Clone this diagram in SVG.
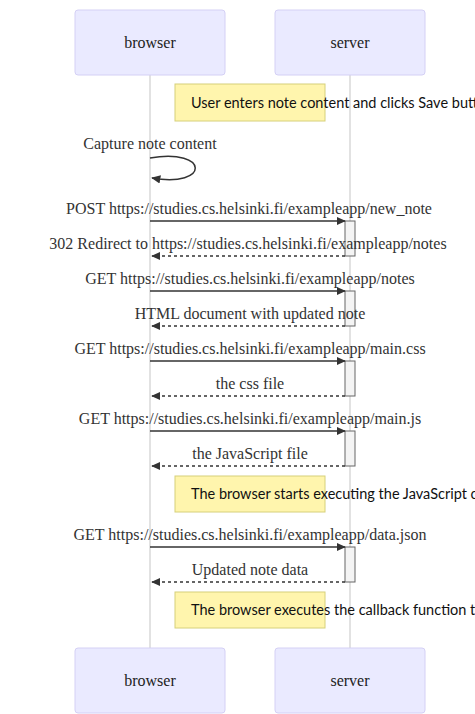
<svg xmlns="http://www.w3.org/2000/svg" width="475" height="714" viewBox="0 0 475 714">
<style>
.actor{fill:#eaeaff;stroke:#d4d0f5;stroke-width:1}
.atext{font-family:"Liberation Serif",serif;font-size:16px;fill:#222;text-anchor:middle;dominant-baseline:central}
.life{stroke:#d9d9d9;stroke-width:1.5}
.msg{stroke:#333;stroke-width:1.5;fill:none}
.dash{stroke-dasharray:3,3}
.mtext{font-family:"Liberation Serif",serif;font-size:16px;fill:#333;text-anchor:middle}
.act{fill:#f4f4f4;stroke:#666;stroke-width:1}
.note{fill:#fff5ad;stroke:#d6d07a;stroke-width:1}
.ntext{font-family:Lato,"DejaVu Sans",sans-serif;font-size:14.5px;fill:#111}
</style>
<defs>
<marker id="arrow" viewBox="0 0 12 12" refX="10" refY="6" markerWidth="10" markerHeight="10" markerUnits="userSpaceOnUse" orient="auto">
<path d="M0,1 L11,6 L0,11 z" fill="#333"/>
</marker>
</defs>
<g id="lifelines">
<line class="life" x1="150" y1="75" x2="150" y2="648"/>
<line class="life" x1="350" y1="75" x2="350" y2="648"/>
</g>
<g id="browser-top"><rect class="actor" x="75" y="10" width="150" height="65" rx="3"/><text class="atext" x="150" y="42.5">browser</text></g>
<g id="server-top"><rect class="actor" x="275" y="10" width="150" height="65" rx="3"/><text class="atext" x="350" y="42.5">server</text></g>
<g id="browser-bottom"><rect class="actor" x="75" y="648" width="150" height="65" rx="3"/><text class="atext" x="150" y="680.5">browser</text></g>
<g id="server-bottom"><rect class="actor" x="275" y="648" width="150" height="65" rx="3"/><text class="atext" x="350" y="680.5">server</text></g>
<g id="activations">
<rect class="act" x="345" y="221" width="10" height="35"/>
<rect class="act" x="345" y="291" width="10" height="35"/>
<rect class="act" x="345" y="361" width="10" height="35"/>
<rect class="act" x="345" y="431" width="10" height="35"/>
<rect class="act" x="345" y="547" width="10" height="35"/>
</g>
<g id="note1"><rect class="note" x="175" y="84" width="150" height="37"/><text class="ntext" x="191" y="108">User enters note content and clicks Save button</text></g>
<g id="note2"><rect class="note" x="175" y="476" width="150" height="36"/><text class="ntext" x="191" y="499">The browser starts executing the JavaScript code that fetches the JSON from the server</text></g>
<g id="note3"><rect class="note" x="175" y="592" width="150" height="36"/><text class="ntext" x="191" y="615">The browser executes the callback function that renders the notes</text></g>
<g id="connectors">
<path class="msg" d="M150,158 C210,148 210,188 152,178" marker-end="url(#arrow)"/>
<line class="msg" x1="150" y1="221" x2="345" y2="221" marker-end="url(#arrow)"/>
<line class="msg dash" x1="345" y1="256" x2="152" y2="256" marker-end="url(#arrow)"/>
<line class="msg" x1="150" y1="291" x2="345" y2="291" marker-end="url(#arrow)"/>
<line class="msg dash" x1="345" y1="326" x2="152" y2="326" marker-end="url(#arrow)"/>
<line class="msg" x1="150" y1="361" x2="345" y2="361" marker-end="url(#arrow)"/>
<line class="msg dash" x1="345" y1="396" x2="152" y2="396" marker-end="url(#arrow)"/>
<line class="msg" x1="150" y1="431" x2="345" y2="431" marker-end="url(#arrow)"/>
<line class="msg dash" x1="345" y1="466" x2="152" y2="466" marker-end="url(#arrow)"/>
<line class="msg" x1="150" y1="547" x2="345" y2="547" marker-end="url(#arrow)"/>
<line class="msg dash" x1="345" y1="582" x2="152" y2="582" marker-end="url(#arrow)"/>
</g>
<g id="labels">
<text class="mtext" x="150" y="149">Capture note content</text>
<text class="mtext" x="249" y="214">POST https://studies.cs.helsinki.fi/exampleapp/new_note</text>
<text class="mtext" x="248" y="249">302 Redirect to https://studies.cs.helsinki.fi/exampleapp/notes</text>
<text class="mtext" x="250" y="284">GET https://studies.cs.helsinki.fi/exampleapp/notes</text>
<text class="mtext" x="250" y="319">HTML document with updated note</text>
<text class="mtext" x="250" y="354">GET https://studies.cs.helsinki.fi/exampleapp/main.css</text>
<text class="mtext" x="250" y="389">the css file</text>
<text class="mtext" x="250" y="424">GET https://studies.cs.helsinki.fi/exampleapp/main.js</text>
<text class="mtext" x="250" y="459">the JavaScript file</text>
<text class="mtext" x="250" y="540">GET https://studies.cs.helsinki.fi/exampleapp/data.json</text>
<text class="mtext" x="250" y="575">Updated note data</text>
</g>
</svg>
